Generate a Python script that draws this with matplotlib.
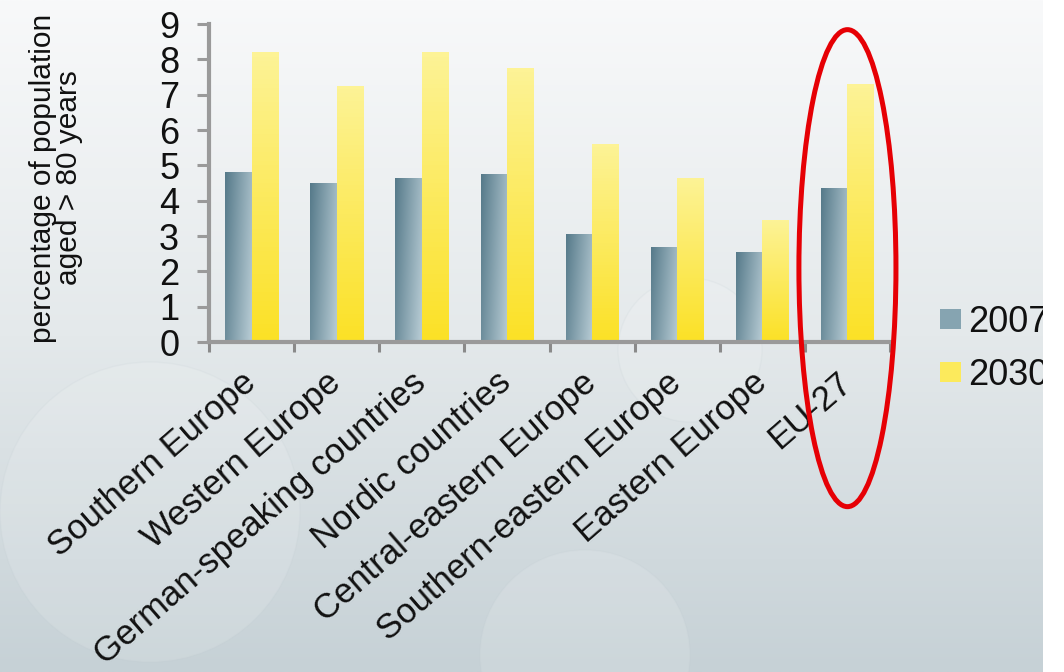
import numpy as np
import matplotlib.pyplot as plt
from matplotlib.patches import Ellipse, Circle, Rectangle, Patch
from matplotlib.colors import to_rgb

plt.rcParams['font.family'] = ['Liberation Sans', 'DejaVu Sans']

################## Data ##################
regions = ['Southern Europe', 'Western Europe', 'German-speaking countries',
           'Nordic countries', 'Central-eastern Europe', 'Southern-eastern Europe',
           'Eastern Europe', 'EU-27']
share_2007 = [4.8, 4.5, 4.65, 4.75, 3.05, 2.7, 2.55, 4.35]
share_2030 = [8.2, 7.25, 8.2, 7.75, 5.6, 4.65, 3.45, 7.3]
years = ['2007', '2030']
yticks = list(range(10))
ylabel = 'percentage of population\naged > 80 years'

################## Figure and background ##################
W, H = 1064, 672
fig = plt.figure(figsize=(W / 100, H / 100), dpi=100)

bg = fig.add_axes([0, 0, 1, 1], zorder=-10)
top, mid, bot = np.array(to_rgb('#f8f9fa')), np.array(to_rgb('#e4e9eb')), np.array(to_rgb('#c6d1d6'))
t = np.linspace(0, 1, 256)[:, None]
grad = np.where(t < 0.5, top + (mid - top) * (t / 0.5), mid + (bot - mid) * ((t - 0.5) / 0.5))
bg.imshow(grad[:, None, :].repeat(2, axis=1), extent=[0, W, H, 0], aspect='auto')
# faint decorative bubbles
for (cx, cy, r) in [(150, 512, 150), (690, 350, 72), (585, 655, 105)]:
    bg.add_patch(Circle((cx, cy), r, facecolor='white', alpha=0.12,
                        edgecolor='#bcc8ce', lw=1.0))
bg.set_xlim(0, W)
bg.set_ylim(H, 0)
bg.axis('off')

################## Bars ##################
ax = fig.add_axes([209 / W, 1 - 342 / H, 681 / W, 318 / H])
ax.patch.set_visible(False)

x = np.arange(len(regions))
w = 0.31
bars07 = ax.bar(x - w / 2, share_2007, w, facecolor='none', edgecolor='none')
bars30 = ax.bar(x + w / 2, share_2030, w, facecolor='none', edgecolor='none')

# gradient fills
dark, light = np.array(to_rgb('#567a8a')), np.array(to_rgb('#b3c8d1'))
tx = np.linspace(0, 1, 32)[None, :]
ty = np.linspace(0, 1, 64)[:, None]  # 0 = bottom
k = np.clip(0.8 * tx + 0.25 * (1 - ty), 0, 1)[..., None]
blue_img = dark + (light - dark) * k

ytop, ybot = np.array(to_rgb('#fdf396')), np.array(to_rgb('#fbe126'))
yellow_img = (ybot + (ytop - ybot) * ty[..., None]) * np.ones((1, 8, 1))

for bars, img in [(bars07, blue_img), (bars30, yellow_img)]:
    for b in bars:
        x0, y0 = b.get_xy()
        im = ax.imshow(img, extent=[x0, x0 + b.get_width(), y0, y0 + b.get_height()],
                       origin='lower', aspect='auto', zorder=2)
        im.set_clip_path(b)

ax.set_xlim(-0.5, len(regions) - 0.5)
ax.set_ylim(0, 9)

################## Axes styling ##################
for s in ['top', 'right']:
    ax.spines[s].set_visible(False)
for s in ['left', 'bottom']:
    ax.spines[s].set_color('#9a9a9a')
    ax.spines[s].set_linewidth(3)

ax.set_yticks(yticks)
ax.tick_params(axis='y', length=8.5, width=2.2, color='#9a9a9a', pad=13,
               labelsize=26, labelcolor='#111111')
ax.set_xticks(x)
ax.set_xticklabels(regions, rotation=41, ha='right', va='center', rotation_mode='anchor')
ax.tick_params(axis='x', which='major', length=0, pad=26, labelsize=25, labelcolor='#111111')
ax.set_xticks(np.arange(-0.5, len(regions), 1), minor=True)
ax.tick_params(axis='x', which='minor', length=7, width=2.2, color='#8a8a8a')

fig.text(56 / W, 1 - 178 / H, ylabel, rotation=90, ha='center', va='center',
         fontsize=21.5, linespacing=0.95, color='#111111')

# highlight EU-27
ax.add_patch(Ellipse((7.0, 2.09), 1.14, 13.5, fill=False, edgecolor='#e60005',
                     lw=3.6, clip_on=False, zorder=5))

################## Legend ##################
handles = [Patch(facecolor='#86a4b1'), Patch(facecolor='#fcea5c')]
fig.legend(handles, years, loc='upper left', bbox_to_anchor=(940 / W, 1 - 305 / H),
           frameon=False, fontsize=26, handlelength=0.58, handleheight=0.47,
           handletextpad=0.2, labelspacing=0.5, borderpad=0, borderaxespad=0,
           labelcolor='#111111')

# white strip on the right edge
fig.add_artist(Rectangle((1043 / W, 0), 21 / W, 1, transform=fig.transFigure,
                         facecolor='white', edgecolor='none', zorder=100))

fig.savefig('out.png', dpi=100)
